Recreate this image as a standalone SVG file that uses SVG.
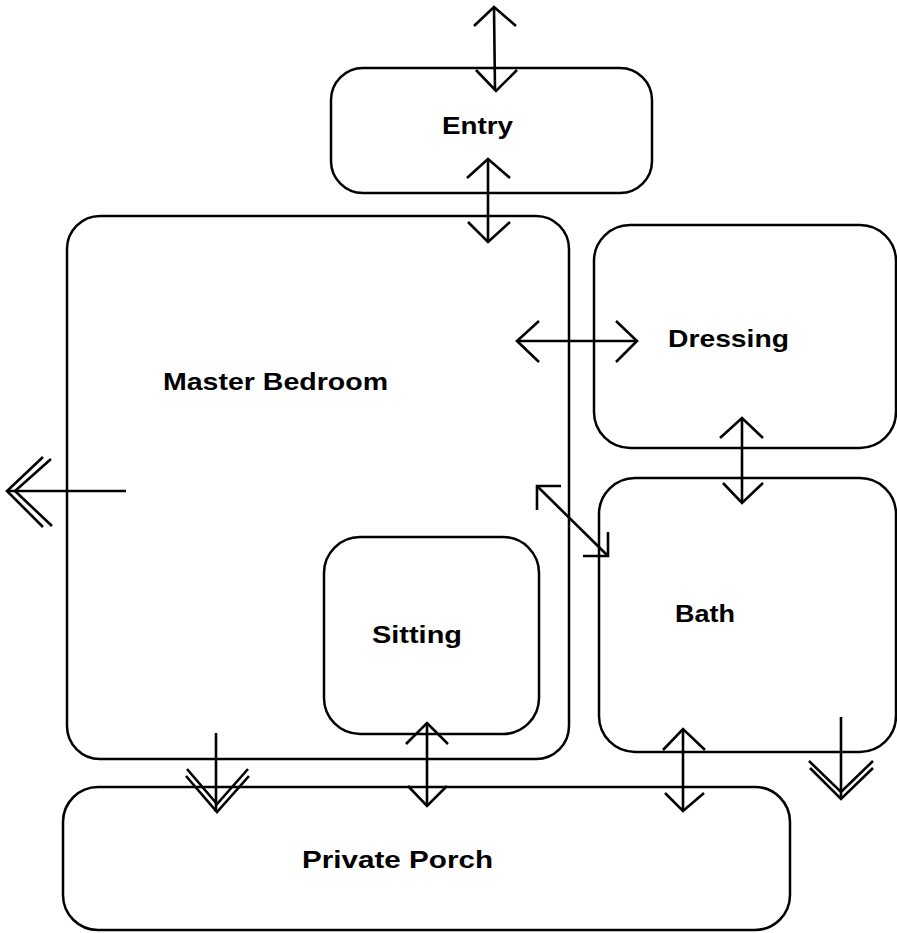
<svg xmlns="http://www.w3.org/2000/svg" width="897" height="933" viewBox="0 0 897 933">
  <style>
    .room { fill: none; stroke: #000; stroke-width: 2.5; }
    .link { fill: none; stroke: #000; stroke-width: 2.6; stroke-linecap: butt; stroke-linejoin: miter; }
    .label { font-family: "Liberation Sans", Arial, sans-serif; font-weight: bold; font-size: 24px; fill: #000; }
  </style>
  <rect width="897" height="933" fill="#fff"/>

  <!-- rooms -->
  <g id="entry">
    <rect class="room" x="331" y="68" width="321" height="125" rx="32" ry="32"/>
    <text class="label" x="442" y="134" textLength="71" lengthAdjust="spacingAndGlyphs">Entry</text>
  </g>
  <g id="master-bedroom">
    <rect class="room" x="67" y="216" width="502" height="543" rx="33" ry="33"/>
    <text class="label" x="163" y="390" textLength="225" lengthAdjust="spacingAndGlyphs">Master Bedroom</text>
  </g>
  <g id="sitting">
    <rect class="room" x="324" y="537" width="215" height="197" rx="36" ry="36"/>
    <text class="label" x="372" y="643" textLength="90" lengthAdjust="spacingAndGlyphs">Sitting</text>
  </g>
  <g id="dressing">
    <rect class="room" x="594" y="225" width="302" height="223" rx="36" ry="36"/>
    <text class="label" x="668" y="347" textLength="121" lengthAdjust="spacingAndGlyphs">Dressing</text>
  </g>
  <g id="bath">
    <rect class="room" x="599" y="478" width="297" height="274" rx="36" ry="36"/>
    <text class="label" x="675" y="622" textLength="60" lengthAdjust="spacingAndGlyphs">Bath</text>
  </g>
  <g id="private-porch">
    <rect class="room" x="63" y="787" width="727" height="143" rx="35" ry="35"/>
    <text class="label" x="302" y="868" textLength="191" lengthAdjust="spacingAndGlyphs">Private Porch</text>
  </g>

  <!-- circulation arrows -->
  <g id="connectors">
    <!-- outside <-> Entry -->
    <line class="link" x1="494" y1="7" x2="495" y2="91"/>
    <polyline class="link" points="474,26 494,7 516,26"/>
    <polyline class="link" points="476,70 496,91 517,70"/>

    <!-- Entry <-> Master Bedroom -->
    <line class="link" x1="488" y1="159" x2="488" y2="242"/>
    <polyline class="link" points="467,178 488,159 510,178"/>
    <polyline class="link" points="468,222 488,242 510,222"/>

    <!-- Master Bedroom <-> Dressing -->
    <line class="link" x1="517" y1="341" x2="637" y2="341"/>
    <polyline class="link" points="539,321 517,341 539,362"/>
    <polyline class="link" points="616,321 637,341 616,362"/>

    <!-- Dressing <-> Bath -->
    <line class="link" x1="742" y1="418" x2="742" y2="503"/>
    <polyline class="link" points="720,438 742,418 763,438"/>
    <polyline class="link" points="723,483 742,503 763,483"/>

    <!-- Master Bedroom <-> Bath (diagonal) -->
    <line class="link" x1="537" y1="486" x2="607" y2="555"/>
    <polyline class="link" points="561,486 537,486 537,510"/>
    <polyline class="link" points="583,556 608,556 608,532"/>

    <!-- Master Bedroom -> outside (west) -->
    <line class="link" x1="7" y1="491" x2="126" y2="491"/>
    <polyline class="link" points="43,457 7,491 43,527"/>
    <polyline class="link" points="51,459 15,491 52,526"/>

    <!-- Master Bedroom -> Private Porch -->
    <line class="link" x1="216" y1="733" x2="216" y2="812"/>
    <polyline class="link" points="186,776 217,812 249,776"/>
    <polyline class="link" points="187,769 217,804 248,769"/>

    <!-- Sitting <-> Private Porch -->
    <line class="link" x1="427" y1="723" x2="427" y2="806"/>
    <polyline class="link" points="406,744 427,723 448,744"/>
    <polyline class="link" points="408,786 427,806 447,786"/>

    <!-- Bath <-> Private Porch -->
    <line class="link" x1="683" y1="729" x2="683" y2="811"/>
    <polyline class="link" points="663,750 683,729 705,750"/>
    <polyline class="link" points="665,793 683,811 704,793"/>

    <!-- Bath -> outside (south) -->
    <line class="link" x1="841" y1="717" x2="841" y2="799"/>
    <polyline class="link" points="810,768 841,799 873,768"/>
    <polyline class="link" points="809,761 841,792 873,761"/>
  </g>
</svg>
